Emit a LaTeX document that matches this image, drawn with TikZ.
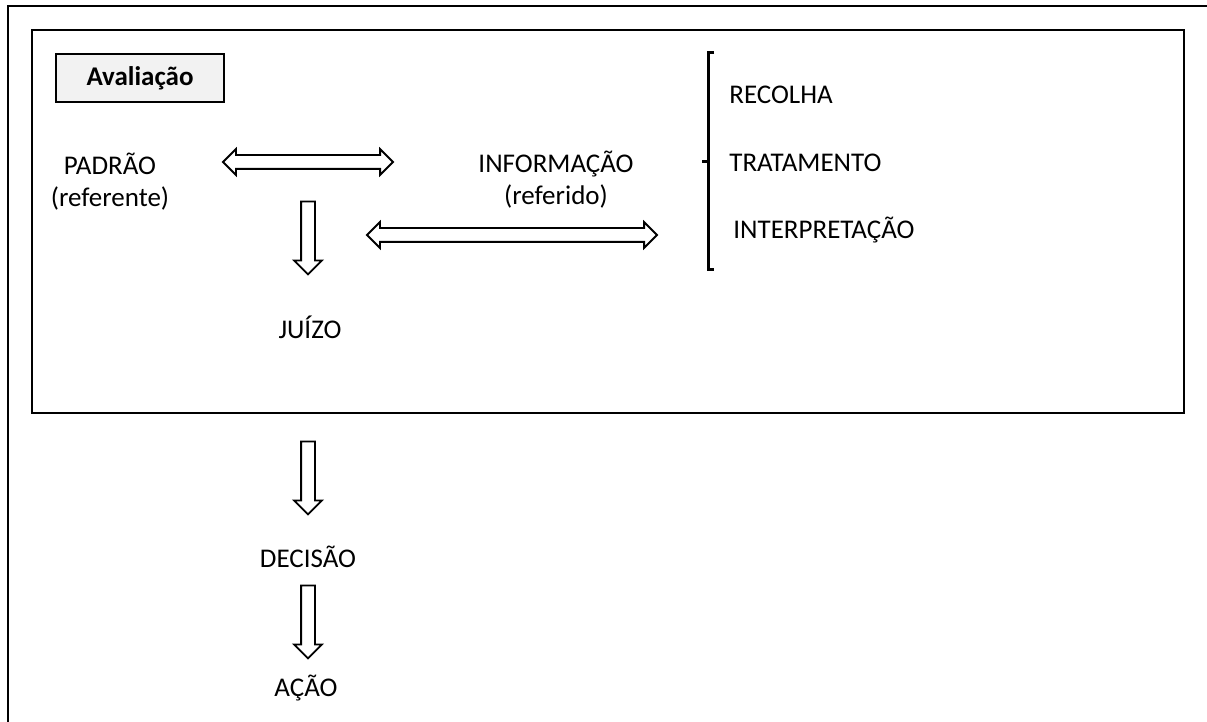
\documentclass[tikz,border=0pt]{standalone}
\usepackage{fontspec}
\setmainfont{Carlito}
\usetikzlibrary{shapes.arrows}

\tikzset{
  frame/.style={draw=black, line width=1pt},
  label/.style={inner sep=0pt, align=center, font=\fontsize{13.5}{16}\selectfont},
  blockdown/.style={single arrow, draw=black, line width=0.9pt, shape border rotate=270,
    single arrow head extend=3.5pt, single arrow head indent=0pt,
    inner sep=3pt, minimum height=36.5pt},
  blockboth/.style={double arrow, draw=black, line width=0.9pt,
    double arrow head extend=3pt, inner sep=3pt}
}

\begin{document}
\begin{tikzpicture}[x=0.5pt, y=-0.5pt]
    \useasboundingbox (0,0) rectangle (1207,722);
    % frames
    \draw[frame] (1220,6) -- (8,6) -- (8,735);
    \draw[frame] (32,30) rectangle (1184,413);
    \node[frame, fill=gray!10, minimum width=84pt, minimum height=24pt, inner sep=0pt,
      font=\bfseries\fontsize{13.5}{16}\selectfont] (aval) at (140,78) {Avaliação};

    % texts
    \node[label] (padrao) at (110,182) {PADRÃO\\(referente)};
    \node[label] (info) at (556,180) {INFORMAÇÃO\\(referido)};
    \node[label] (juizo) at (310,327) {JUÍZO};
    \node[label] (decisao) at (308,557) {DECISÃO};
    \node[label] (acao) at (306,688) {AÇÃO};
    \node[label, anchor=west] (recolha) at (729,95) {RECOLHA};
    \node[label, anchor=west] (tratam) at (729,163) {TRATAMENTO};
    \node[label, anchor=west] (interp) at (733,230) {INTERPRETAÇÃO};

    % bracket
    \draw[line width=1.5pt] (714,53) -- (708,53) -- (708,270) -- (714,270);
    \draw[line width=1.5pt] (702,162) -- (708,162);

    % block arrows
    \node[blockboth, minimum height=85pt] (ab1) at (308,162) {};
    \node[blockboth, minimum height=145pt] (ab2) at (512,235) {};
    \node[blockdown] (ad1) at (308,234.5) {};
    \node[blockdown] (ad2) at (308,474.5) {};
    \node[blockdown] (ad3) at (308,618.5) {};
\end{tikzpicture}
\end{document}
